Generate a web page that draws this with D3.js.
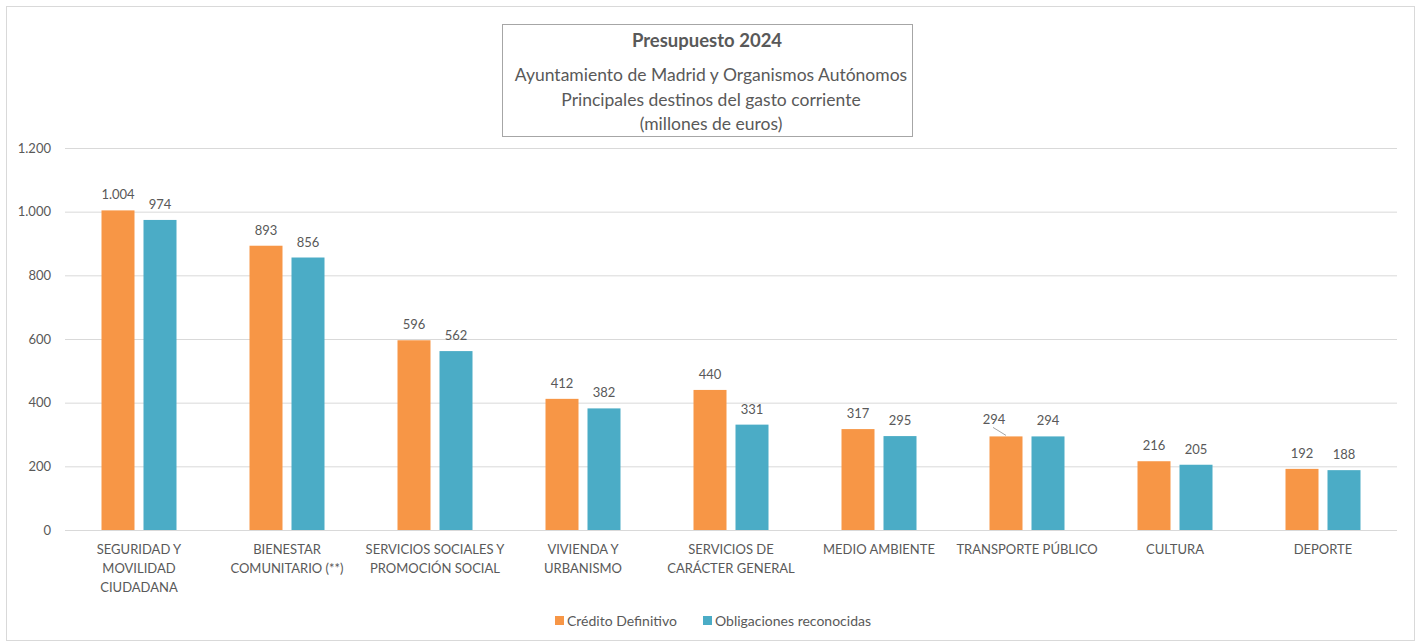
<!DOCTYPE html>
<html>
<head>
<meta charset="utf-8">
<script src="https://cdn.jsdelivr.net/npm/d3@7"></script>
<style>
  body { margin: 0; background: #fff; }
  svg text { font-family: Lato, "Open Sans", sans-serif; fill: #595959; }
</style>
</head>
<body>
<svg id="chart" width="1422" height="643"></svg>
<script>
const categories = [
  ["SEGURIDAD Y", "MOVILIDAD", "CIUDADANA"],
  ["BIENESTAR", "COMUNITARIO (**)"],
  ["SERVICIOS SOCIALES Y", "PROMOCIÓN SOCIAL"],
  ["VIVIENDA Y", "URBANISMO"],
  ["SERVICIOS DE", "CARÁCTER GENERAL"],
  ["MEDIO AMBIENTE"],
  ["TRANSPORTE PÚBLICO"],
  ["CULTURA"],
  ["DEPORTE"]
];
const creditoDefinitivo = [1004, 893, 596, 412, 440, 317, 294, 216, 192];
const obligaciones = [974, 856, 562, 382, 331, 295, 294, 205, 188];
const seriesNames = ["Crédito Definitivo", "Obligaciones reconocidas"];
const yTicks = [0, 200, 400, 600, 800, 1000, 1200];
const titleLines = ["Ayuntamiento de Madrid y Organismos Autónomos", "Principales destinos del gasto corriente", "(millones de euros)"];

const colors = ["#F79646", "#4BACC6"];
const svg = d3.select('#chart');

// outer frame
svg.append('rect')
  .attr('x', 6.5).attr('y', 6.5)
  .attr('width', 1408).attr('height', 634)
  .attr('fill', 'none').attr('stroke', '#d9d9d9');

const plotLeft = 65, plotRight = 1397, plotTop = 148, plotBottom = 530;

const x = d3.scaleBand()
  .domain(d3.range(categories.length))
  .range([plotLeft, plotRight]);

const y = d3.scaleLinear()
  .domain([0, 1200])
  .range([plotBottom, plotTop]);

// gridlines
svg.append('g').selectAll('line')
  .data(yTicks)
  .join('line')
  .attr('x1', plotLeft).attr('x2', plotRight)
  .attr('y1', d => y(d) + 0.5).attr('y2', d => y(d) + 0.5)
  .attr('stroke', '#d9d9d9').attr('stroke-width', 1);

// y labels
const fmt = d3.formatLocale({ decimal: ",", thousands: ".", grouping: [3], currency: ["", "€"] }).format(",d");
svg.append('g').selectAll('text')
  .data(yTicks)
  .join('text')
  .attr('x', 51).attr('y', d => y(d) + 4.5)
  .attr('text-anchor', 'end')
  .attr('font-size', 13)
  .text(d => fmt(d));

const barW = 33, gap = 9;
const series = [creditoDefinitivo, obligaciones];
series.forEach((vals, s) => {
  const bx = i => x(i) + x.bandwidth() / 2 + (s === 0 ? -gap / 2 - barW : gap / 2);
  svg.append('g').selectAll('rect')
    .data(vals)
    .join('rect')
    .attr('x', (d, i) => bx(i))
    .attr('y', d => y(d))
    .attr('width', barW)
    .attr('height', d => y(0) - y(d))
    .attr('fill', colors[s]);

  svg.append('g').selectAll('text')
    .data(vals)
    .join('text')
    .attr('x', (d, i) => bx(i) + barW / 2 + (s === 0 && i === 6 ? -12 : 0))
    .attr('y', (d, i) => y(d) - (s === 0 && i === 6 ? 12 : 11))
    .attr('text-anchor', 'middle')
    .attr('font-size', 13)
    .text(d => fmt(d));
});

// leader line for the displaced label
{
  const i = 6;
  const bx = x(i) + x.bandwidth() / 2 - gap / 2 - barW;
  svg.append('line')
    .attr('x1', bx + barW / 2 - 13).attr('y1', y(creditoDefinitivo[i]) - 9)
    .attr('x2', bx + barW / 2).attr('y2', y(creditoDefinitivo[i]) - 1)
    .attr('stroke', '#a6a6a6').attr('stroke-width', 1);
}

// category labels
const catG = svg.append('g');
categories.forEach((lines, i) => {
  const t = catG.append('text')
    .attr('x', x(i) + x.bandwidth() / 2)
    .attr('y', 554)
    .attr('text-anchor', 'middle')
    .attr('font-size', 13);
  lines.forEach((l, k) => {
    t.append('tspan')
      .attr('x', x(i) + x.bandwidth() / 2)
      .attr('dy', k === 0 ? 0 : 19)
      .text(l);
  });
});

// title box
svg.append('rect')
  .attr('x', 502.5).attr('y', 24.5)
  .attr('width', 410).attr('height', 112)
  .attr('fill', '#fff').attr('stroke', '#a6a6a6');
svg.append('text')
  .attr('x', 707).attr('y', 47)
  .attr('text-anchor', 'middle')
  .attr('font-size', 18.5).attr('font-weight', 'bold')
  .text('Presupuesto 2024');
titleLines.forEach((l, k) => {
  svg.append('text')
    .attr('x', 711).attr('y', 81 + k * 24.5)
    .attr('text-anchor', 'middle')
    .attr('font-size', 17.5)
    .text(l);
});

// legend
const legendX = [555, 703];
seriesNames.forEach((n, s) => {
  svg.append('rect')
    .attr('x', legendX[s]).attr('y', 616)
    .attr('width', 9).attr('height', 9)
    .attr('fill', colors[s]);
  svg.append('text')
    .attr('x', legendX[s] + 12).attr('y', 626)
    .attr('font-size', 14)
    .text(n);
});
</script>
</body>
</html>
